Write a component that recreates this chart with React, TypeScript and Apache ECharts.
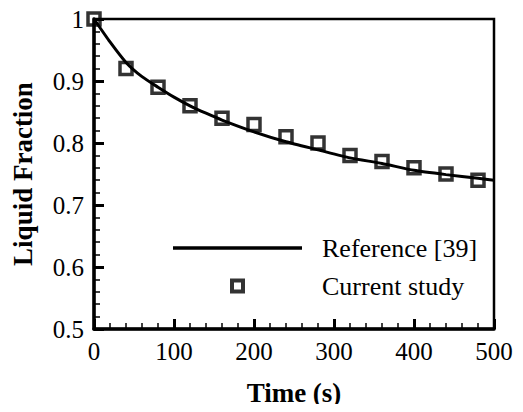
import React, { useEffect, useRef } from "react";
import * as echarts from "echarts";

const studyTimes = [0, 40, 80, 120, 160, 200, 240, 280, 320, 360, 400, 440, 480];
const studyValues = [1.0, 0.92, 0.89, 0.86, 0.84, 0.83, 0.81, 0.8, 0.78, 0.77, 0.76, 0.75, 0.74];

const refTimes = [0, 20, 40, 60, 80, 100, 120, 140, 160, 200, 240, 280, 320, 360, 400, 440, 480, 500];
const refValues = [1.0, 0.963, 0.93, 0.907, 0.89, 0.874, 0.86, 0.848, 0.837, 0.818, 0.802, 0.789, 0.776, 0.767, 0.756, 0.749, 0.743, 0.74];

const xTitle = "Time (s)";
const yTitle = "Liquid Fraction";
const refName = "Reference [39]";
const studyName = "Current study";

const FONT = "Liberation Serif";

export default function App() {
  const ref = useRef<HTMLDivElement>(null);
  useEffect(() => {
    if (!ref.current) return;
    const chart = echarts.init(ref.current, undefined, { renderer: "svg" });
    const axisCommon = {
      axisLine: { show: true, onZero: false, lineStyle: { color: "#000", width: 3.5 } },
      axisTick: { show: true, inside: true, length: 10, lineStyle: { color: "#000", width: 3 } },
      minorTick: { show: true, splitNumber: 5, length: 6, lineStyle: { color: "#000", width: 1.5 } },
      splitLine: { show: false },
      axisLabel: { color: "#000", fontSize: 25, fontFamily: FONT, margin: 10 },
      nameTextStyle: { color: "#000", fontSize: 27, fontWeight: "bold", fontFamily: FONT },
    };
    chart.setOption({
      animation: false,
      backgroundColor: "#fff",
      textStyle: { fontFamily: FONT },
      grid: { left: 94, right: 29, top: 19, bottom: 83, show: true, borderColor: "#000", borderWidth: 2.5 },
      xAxis: {
        type: "value",
        min: 0,
        max: 500,
        interval: 100,
        name: xTitle,
        nameLocation: "middle",
        nameGap: 50,
        ...axisCommon,
      },
      yAxis: {
        type: "value",
        min: 0.5,
        max: 1,
        interval: 0.1,
        name: yTitle,
        nameLocation: "middle",
        nameGap: 58,
        ...axisCommon,
        axisLabel: {
          ...axisCommon.axisLabel,
          formatter: (v: number) => String(+v.toFixed(1)),
        },
      },
      legend: {
        orient: "vertical",
        left: 173,
        top: 235,
        padding: 0,
        itemWidth: 129,
        itemHeight: 15,
        itemGap: 12,
        symbolKeepAspect: true,
        textStyle: { color: "#000", fontSize: 26, fontFamily: FONT, lineHeight: 26, padding: [0, 0, 0, 15] },
        data: [
          {
            name: refName,
            icon: "path://M0,0H129V3.5H0Z",
            itemStyle: { color: "#000", borderWidth: 0 },
          },
          {
            name: studyName,
            icon: "path://M0,0H15V15H0Z M4,4V11H11V4Z",
            itemStyle: { color: "#000", borderWidth: 0 },
          },
        ],
      },
      series: [
        {
          name: refName,
          type: "line",
          data: refTimes.map((t, i) => [t, refValues[i]]),
          symbol: "none",
          smooth: 0.2,
          lineStyle: { color: "#000", width: 3 },
          itemStyle: { color: "#000" },
          z: 2,
        },
        {
          name: studyName,
          type: "scatter",
          data: studyTimes.map((t, i) => [t, studyValues[i]]),
          symbol: "rect",
          symbolSize: 12,
          itemStyle: { color: "rgba(255,255,255,0)", borderColor: "#000", borderWidth: 3.5 },
          z: 3,
        },
      ],
    });
    return () => chart.dispose();
  }, []);
  return <div ref={ref} style={{ width: 523, height: 412, margin: -8 }} />;
}
